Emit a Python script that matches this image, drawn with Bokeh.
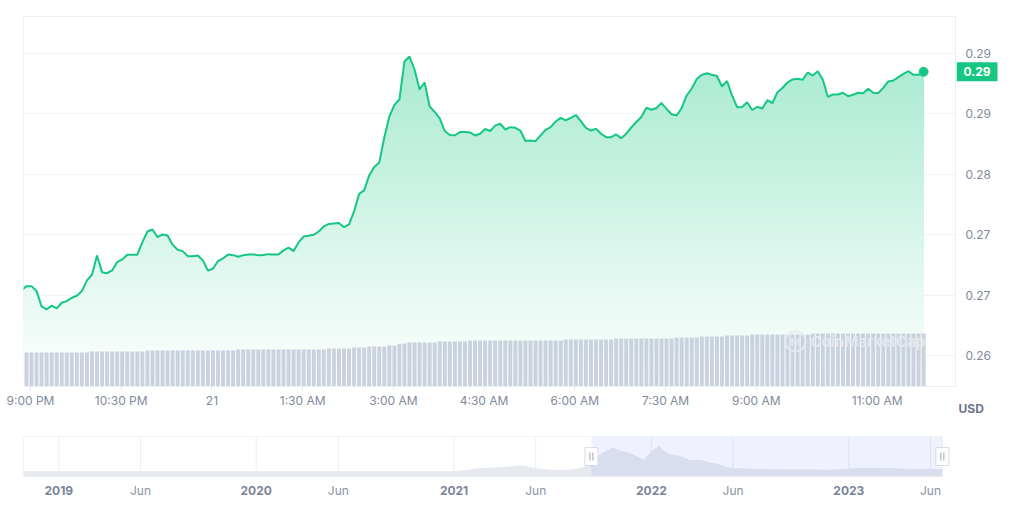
import numpy as np
import pandas as pd
from bokeh.plotting import figure
from bokeh.models import Range1d, FixedTicker, Label
from bokeh.core.properties import value
from bokeh.layouts import column, row
from bokeh.embed import file_html
from bokeh.resources import INLINE

# ---------------- data ----------------
start_time = "2023-06-20 20:51"
interval_minutes = 5

prices = [
    0.26847, 0.26889, 0.26889, 0.26840, 0.26688, 0.26658, 0.26695, 0.26668, 0.26724, 0.26740,
    0.26774, 0.26794, 0.26840, 0.26946, 0.27003, 0.27194, 0.27028, 0.27018, 0.27045, 0.27128,
    0.27154, 0.27201, 0.27201, 0.27201, 0.27326, 0.27432, 0.27452, 0.27376, 0.27403, 0.27393,
    0.27300, 0.27251, 0.27237, 0.27187, 0.27187, 0.27194, 0.27145, 0.27045, 0.27062, 0.27138,
    0.27164, 0.27204, 0.27197, 0.27181, 0.27197, 0.27204, 0.27204, 0.27197, 0.27199, 0.27207,
    0.27204, 0.27204, 0.27244, 0.27271, 0.27237, 0.27323, 0.27383, 0.27390, 0.27400, 0.27432,
    0.27482, 0.27507, 0.27512, 0.27517, 0.27475, 0.27502, 0.27631, 0.27805, 0.27840, 0.27989,
    0.28073, 0.28118, 0.28366, 0.28574, 0.28689, 0.28743, 0.29121, 0.29170, 0.29041, 0.28843,
    0.28912, 0.28674, 0.28619, 0.28555, 0.28430, 0.28391, 0.28388, 0.28419, 0.28419, 0.28416,
    0.28386, 0.28403, 0.28450, 0.28430, 0.28483, 0.28502, 0.28445, 0.28468, 0.28462, 0.28435,
    0.28331, 0.28336, 0.28329, 0.28386, 0.28442, 0.28468, 0.28525, 0.28561, 0.28535, 0.28561,
    0.28589, 0.28528, 0.28462, 0.28435, 0.28452, 0.28403, 0.28369, 0.28369, 0.28396, 0.28359,
    0.28403, 0.28465, 0.28520, 0.28569, 0.28661, 0.28641, 0.28659, 0.28708, 0.28649, 0.28596,
    0.28584, 0.28659, 0.28783, 0.28852, 0.28947, 0.28988, 0.29003, 0.28988, 0.28977, 0.28872,
    0.28927, 0.28783, 0.28667, 0.28669, 0.28716, 0.28639, 0.28671, 0.28654, 0.28736, 0.28706,
    0.28816, 0.28857, 0.28912, 0.28942, 0.28949, 0.28939, 0.29011, 0.28982, 0.29023, 0.28942,
    0.28770, 0.28793, 0.28793, 0.28810, 0.28776, 0.28790, 0.28810, 0.28806, 0.28850, 0.28810,
    0.28806, 0.28859, 0.28922, 0.28932, 0.28965, 0.28998, 0.29024, 0.28988, 0.28988, 0.29018,
]

# volume (billions USD)
volumes = [
    0.68, 0.68, 0.68, 0.68, 0.68, 0.68, 0.68, 0.68, 0.68, 0.68,
    0.68, 0.68, 0.68, 0.68, 0.70, 0.70, 0.70, 0.70, 0.70, 0.70,
    0.70, 0.70, 0.70, 0.70, 0.70, 0.72, 0.72, 0.72, 0.72, 0.72,
    0.72, 0.72, 0.72, 0.72, 0.72, 0.72, 0.72, 0.72, 0.72, 0.72,
    0.72, 0.72, 0.72, 0.74, 0.74, 0.74, 0.74, 0.74, 0.74, 0.74,
    0.74, 0.74, 0.74, 0.74, 0.74, 0.74, 0.74, 0.74, 0.74, 0.74,
    0.74, 0.76, 0.76, 0.76, 0.76, 0.76, 0.78, 0.78, 0.78, 0.80,
    0.80, 0.80, 0.80, 0.82, 0.82, 0.85, 0.86, 0.88, 0.88, 0.88,
    0.88, 0.88, 0.88, 0.90, 0.90, 0.90, 0.90, 0.90, 0.90, 0.92,
    0.92, 0.92, 0.92, 0.92, 0.92, 0.92, 0.92, 0.92, 0.92, 0.92,
    0.92, 0.92, 0.92, 0.92, 0.92, 0.92, 0.92, 0.92, 0.94, 0.94,
    0.94, 0.94, 0.94, 0.94, 0.94, 0.94, 0.94, 0.94, 0.96, 0.96,
    0.96, 0.96, 0.96, 0.96, 0.96, 0.96, 0.96, 0.96, 0.96, 0.96,
    0.98, 0.98, 0.98, 0.98, 0.98, 1.00, 1.00, 1.00, 1.00, 1.00,
    1.02, 1.02, 1.02, 1.02, 1.02, 1.04, 1.04, 1.04, 1.04, 1.04,
    1.04, 1.04, 1.04, 1.04, 1.04, 1.04, 1.04, 1.06, 1.06, 1.06,
    1.06, 1.06, 1.06, 1.06, 1.06, 1.06, 1.06, 1.06, 1.06, 1.06,
    1.06, 1.06, 1.06, 1.06, 1.06, 1.06, 1.06, 1.06, 1.06, 1.06,
]

tick_times = ["2023-06-20 21:00", "2023-06-20 22:30", "2023-06-21 00:00", "2023-06-21 01:30",
              "2023-06-21 03:00", "2023-06-21 04:30", "2023-06-21 06:00", "2023-06-21 07:30",
              "2023-06-21 09:00", "2023-06-21 11:00"]
tick_labels = ["9:00 PM", "10:30 PM", "21", "1:30 AM", "3:00 AM", "4:30 AM", "6:00 AM",
               "7:30 AM", "9:00 AM", "11:00 AM"]
price_ticks = [0.262, 0.268, 0.274, 0.280, 0.286, 0.292]
currency = "USD"

nav_dates = ["2018-10-28", "2019-03-01", "2019-06-01", "2019-10-01", "2020-01-01", "2020-04-01",
             "2020-07-01", "2020-10-01", "2021-01-02", "2021-01-26", "2021-02-19", "2021-03-28",
             "2021-05-04", "2021-05-13", "2021-05-28", "2021-06-28", "2021-07-30", "2021-08-23",
             "2021-09-05", "2021-09-12", "2021-09-29", "2021-10-11", "2021-10-22", "2021-10-30",
             "2021-11-10", "2021-11-23", "2021-12-06", "2021-12-17", "2021-12-26", "2022-01-05",
             "2022-01-16", "2022-01-23", "2022-02-05", "2022-02-18", "2022-03-01", "2022-03-14",
             "2022-04-01", "2022-04-14", "2022-05-03", "2022-05-21", "2022-06-01", "2022-08-03",
             "2022-12-04", "2023-01-23", "2023-03-06", "2023-05-08", "2023-06-23"]
nav_values = [0.13, 0.13, 0.13, 0.13, 0.13, 0.13, 0.13, 0.13, 0.13, 0.17, 0.21, 0.23,
              0.28, 0.26, 0.21, 0.17, 0.17, 0.21, 0.28, 0.34, 0.57, 0.65, 0.73, 0.67,
              0.63, 0.58, 0.50, 0.42, 0.54, 0.67, 0.78, 0.65, 0.55, 0.53, 0.48, 0.40,
              0.42, 0.36, 0.32, 0.23, 0.21, 0.18, 0.17, 0.22, 0.21, 0.19, 0.19]
nav_year_ticks = ["2019-01-01", "2020-01-01", "2021-01-01", "2022-01-01", "2023-01-01"]
nav_year_labels = ["2019", "2020", "2021", "2022", "2023"]
nav_jun_ticks = ["2019-06-01", "2020-06-01", "2021-06-01", "2022-06-01", "2023-06-01"]
nav_jun_labels = ["Jun", "Jun", "Jun", "Jun", "Jun"]
selection_start = "2021-09-12"

# ---------------- styling / layout ----------------
FONT = "Inter"
GREEN = "#16c784"
TXT = "#808a9d"


def ms(t):
    return pd.Timestamp(t).value / 1e6


times = pd.date_range(start_time, periods=len(prices), freq=f"{interval_minutes}min")
price_arr = np.array(prices)
vol_arr = np.array(volumes)

PX_PER_MIN = 1.008
FRAME_W, FRAME_H = 932, 370
x0 = pd.Timestamp(tick_times[0]) - pd.Timedelta(minutes=7 / PX_PER_MIN)
x1 = x0 + pd.Timedelta(minutes=FRAME_W / PX_PER_MIN)
PRICE_PER_PX = (price_ticks[-1] - price_ticks[0]) / 302.0
y_top = price_ticks[-1] + 37 * PRICE_PER_PX
y_bot = y_top - FRAME_H * PRICE_PER_PX

p = figure(width=956, height=430, x_axis_type="datetime", y_axis_location=None,
           x_range=Range1d(ms(x0), ms(x1)), y_range=Range1d(y_bot, y_top),
           output_backend="svg", toolbar_location=None, tools="",
           min_border_left=23, min_border_right=1, min_border_top=16, min_border_bottom=44,
           background_fill_color="white", border_fill_color="white",
           outline_line_color="#eceff3", outline_line_width=1)
p.extra_y_ranges = {"vol": Range1d(0, 7.4)}

# gradient area under the line (stacked bands, top to bottom)
N = 74
base = np.array([22, 199, 132])
for j in range(N, 0, -1):
    top_j = y_bot + (y_top - y_bot) * j / N
    if j < N and top_j > price_arr.max() + (y_top - y_bot) / N:
        continue
    a = 0.42 * (j - 0.5) / N
    rgb = 255 - (255 - base) * a
    col = "#%02x%02x%02x" % tuple(int(round(c)) for c in rgb)
    p.varea(x=times, y1=np.full(len(price_arr), y_bot), y2=np.minimum(price_arr, top_j),
            fill_color=col, fill_alpha=1.0)

# volume bars
p.vbar(x=times, top=vol_arr, bottom=0, width=4 / PX_PER_MIN * 60000, y_range_name="vol",
       fill_color="#cad2df", line_color=None)

# price line + last point
p.line(x=times, y=price_arr, line_color=GREEN, line_width=2)
p.scatter(x=[times[-1]], y=[prices[-1]], size=9, fill_color=GREEN, line_color=GREEN)

p.ygrid.ticker = FixedTicker(ticks=price_ticks)
p.ygrid.grid_line_color = "#f1f3f6"
p.xgrid.visible = False

# x axis
tick_ms = [ms(t) for t in tick_times]
p.xaxis.ticker = FixedTicker(ticks=tick_ms)
p.xaxis.major_label_overrides = {tm: lab for tm, lab in zip(tick_ms, tick_labels)}
p.xaxis.axis_line_color = "#eceff3"
p.xaxis.major_tick_line_color = "#e4e8ee"
p.xaxis.major_tick_out = 4
p.xaxis.major_tick_in = 0
p.xaxis.minor_tick_line_color = None
p.xaxis.major_label_standoff = 2
p.xaxis.major_label_text_font = FONT
p.xaxis.major_label_text_font_size = "12px"
p.xaxis.major_label_text_color = TXT

# watermark
p.add_layout(Label(x=772, y=45, x_units="screen", y_units="screen", text="M",
                   text_font=FONT, text_font_size="11px", text_font_style="bold",
                   text_color="#e6eaf0", text_alpha=0.9, text_align="center", text_baseline="middle",
                   border_line_color="#e6eaf0", border_line_alpha=0.9, border_line_width=2,
                   border_radius=10, padding=(5, 3)))
p.add_layout(Label(x=787, y=45, x_units="screen", y_units="screen", text="CoinMarketCap",
                   text_font=FONT, text_font_size="15px", text_font_style="bold",
                   text_color="#e6eaf0", text_alpha=0.9, text_align="left", text_baseline="middle"))

# ---------------- price scale panel (right) ----------------
SIDE_H = 414
side = figure(width=67, height=430, x_axis_location=None, y_axis_location=None,
              x_range=Range1d(956, 1023), y_range=Range1d(y_top - SIDE_H * PRICE_PER_PX, y_top),
              output_backend="svg", toolbar_location=None, tools="",
              min_border_left=0, min_border_right=0, min_border_top=16, min_border_bottom=0,
              background_fill_color="white", border_fill_color="white", outline_line_color=None)
if "frame_align" in side.properties():
    side.frame_align = False
    p.frame_align = False
side.xgrid.visible = False
side.ygrid.visible = False
side.text(x=[965] * len(price_ticks), y=price_ticks, text=[f"{v:.2f}" for v in price_ticks],
          text_font=value(FONT), text_font_size="12px", text_color=TXT,
          text_align="left", text_baseline="middle")
side.rect(x=[976.5], y=[prices[-1]], width=41, height=19, height_units="screen",
          fill_color=GREEN, line_color=None)
side.text(x=[976.5], y=[prices[-1]], text=[f"{prices[-1]:.2f}"],
          text_font=value(FONT), text_font_size="12px", text_font_style="bold",
          text_color="white", text_align="center", text_baseline="middle")
usd_y = y_top - (408 - 16) * PRICE_PER_PX
side.text(x=[958], y=[usd_y], text=[currency], text_font=value(FONT), text_font_size="12px",
          text_font_style="bold", text_color="#6c778b", text_align="left", text_baseline="middle")

# ---------------- navigator ----------------
NAV_PX_PER_DAY = 197.5 / 365.25
NAV_FRAME_W = 990
NAV_BOX_H = 40
NAV_FRAME_H = 84
nav_t = pd.to_datetime(nav_dates)
nav_x0 = pd.Timestamp(nav_year_ticks[0]) - pd.Timedelta(days=35.3 / NAV_PX_PER_DAY)
nav_x1 = nav_x0 + pd.Timedelta(days=NAV_FRAME_W / NAV_PX_PER_DAY)
box_end = nav_t[-1]

nav = figure(width=1023, height=90, x_axis_type="datetime", x_axis_location=None, y_axis_location=None,
             x_range=Range1d(ms(nav_x0), ms(nav_x1)),
             y_range=Range1d(1 - NAV_FRAME_H / NAV_BOX_H, 1),
             output_backend="svg", toolbar_location=None, tools="",
             min_border_left=23, min_border_right=10, min_border_top=6, min_border_bottom=0,
             background_fill_color="white", border_fill_color="white", outline_line_color=None)
nav.xgrid.visible = False
nav.ygrid.visible = False

all_nav_ticks = [ms(t) for t in nav_year_ticks + nav_jun_ticks]
nav.segment(x0=all_nav_ticks, y0=[0] * len(all_nav_ticks), x1=all_nav_ticks, y1=[1] * len(all_nav_ticks),
            line_color="#eceff3", line_width=1)
nav.varea(x=nav_t, y1=np.zeros(len(nav_values)), y2=np.array(nav_values),
          fill_color="#e6e9ee", fill_alpha=1.0)
nav.quad(left=[ms(selection_start)], right=[ms(box_end)], bottom=[0], top=[1],
         fill_color="#4d6ff0", fill_alpha=0.09, line_color=None)
nav.quad(left=[ms(nav_x0)], right=[ms(box_end)], bottom=[0], top=[1],
         fill_color=None, line_color="#e6e9ee", line_width=1)

handles = [ms(selection_start), ms(box_end)]
nav.rect(x=handles, y=[0.5, 0.5], width=13, height=18, width_units="screen", height_units="screen",
         fill_color="white", line_color="#d6dce6", line_width=1)
off = 1.5 / NAV_PX_PER_DAY * 86400000
seg_x = [h + s * off for h in handles for s in (-1, 1)]
nav.segment(x0=seg_x, y0=[0.4] * 4, x1=seg_x, y1=[0.6] * 4, line_color="#9aa4b6", line_width=1)

label_y = -(490 - 476) / NAV_BOX_H
nav.text(x=[ms(t) for t in nav_year_ticks], y=[label_y] * len(nav_year_ticks), text=nav_year_labels,
         text_font=value(FONT), text_font_size="12px", text_font_style="bold", text_color="#7a8599",
         text_align="center", text_baseline="middle")
nav.text(x=[ms(t) for t in nav_jun_ticks], y=[label_y] * len(nav_jun_ticks), text=nav_jun_labels,
         text_font=value(FONT), text_font_size="12px", text_color="#8a94a6",
         text_align="center", text_baseline="middle")

layout = column(row(p, side), nav)

open("out.html", "w").write(file_html(layout, INLINE))
